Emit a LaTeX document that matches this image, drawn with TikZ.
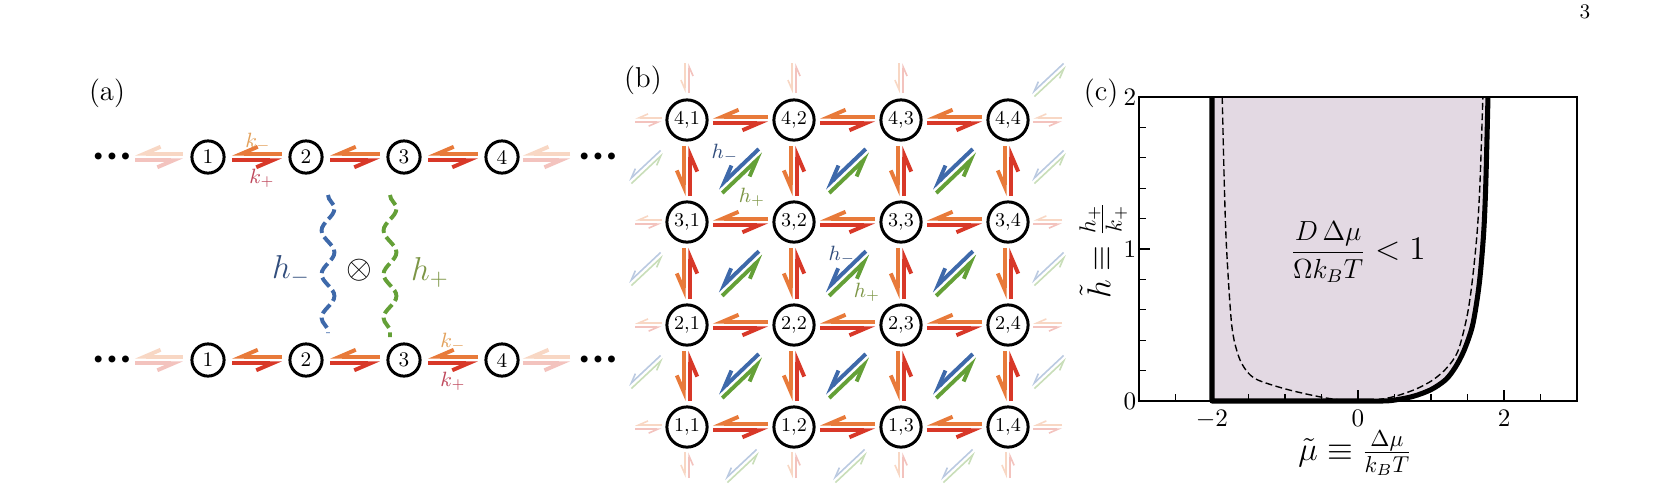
\documentclass[tikz,border=0pt]{standalone}
\usetikzlibrary{arrows.meta,calc,decorations.pathmorphing}

\definecolor{kred}{RGB}{216,56,40}
\definecolor{korange}{RGB}{232,122,58}
\definecolor{hblue}{RGB}{62,105,170}
\definecolor{hgreen}{RGB}{100,160,55}
\definecolor{kminustext}{RGB}{226,160,90}
\definecolor{kplustext}{RGB}{190,70,90}
\definecolor{hminustext}{RGB}{50,78,125}
\definecolor{hplustext}{RGB}{125,150,70}
\definecolor{regionfill}{RGB}{227,217,227}

\newcommand{\hoff}{1.45pt}
\newcommand{\rates}[6]{%
  \draw[#5, shorten <=#3, shorten >=#4] ($(#1)!\hoff!-90:(#2)$) -- ($(#2)!\hoff!90:(#1)$);
  \draw[#6, shorten <=#4, shorten >=#3] ($(#2)!\hoff!-90:(#1)$) -- ($(#1)!\hoff!90:(#2)$);}

\begin{document}
\begin{tikzpicture}[x=0.435pt, y=-0.435pt,
    site/.style={draw, circle, line width=1.3pt, minimum size=14pt, inner sep=0pt, font=\small},
    cell/.style={site, minimum size=17.5pt, font=\fontsize{8.5}{10}\selectfont},
    harp/.style={line width=1.7pt, -{Straight Barb[harpoon,swap,length=7pt,width=6pt]}},
    faint/.style={line width=0.7pt, -{Straight Barb[harpoon,swap,length=4pt,width=3.5pt]}},
    plusrate/.style={harp, draw=kred},
    minusrate/.style={harp, draw=korange},
    plusfield/.style={harp, draw=hgreen},
    minusfield/.style={harp, draw=hblue},
    paleplus/.style={harp, draw=kred!30},
    paleminus/.style={harp, draw=korange!30},
    faintplus/.style={faint, draw=kred!30},
    faintminus/.style={faint, draw=korange!30},
    faintgreen/.style={faint, draw=hgreen!35},
    faintblue/.style={faint, draw=hblue!35},
    wavy/.style={decorate, decoration={snake, amplitude=2.8pt, segment length=19pt}, line width=1.7pt, dash pattern=on 5pt off 2pt},
    dots/.style={font=\scriptsize},
    panel/.style={font=\fontsize{12.5}{15}\selectfont},
    ticklabel/.style={font=\fontsize{11}{13}\selectfont, inner sep=1pt}]
\useasboundingbox (0,0) rectangle (1656,500);

\node[panel] (la) at (107,93) {(a)};
\node[panel] (lb) at (643,80) {(b)};
\node[panel] (lc) at (1101,93) {(c)};
\node[font=\small] (pg) at (1585,12) {3};

% (a) two chains
\foreach \i/\x in {1/208,2/306,3/404,4/502} {
  \node[site] (a\i) at (\x,157) {\i};
  \node[site] (b\i) at (\x,360) {\i};
}
\coordinate (a0) at (135,157); \coordinate (a5) at (570,157);
\coordinate (b0) at (135,360); \coordinate (b5) at (570,360);
\foreach \row in {a,b} {
  \rates{\row0}{\row1}{0pt}{10.9pt}{paleplus}{paleminus}
  \rates{\row4}{\row5}{9.1pt}{0pt}{paleplus}{paleminus}
  \foreach \i [evaluate=\i as \j using int(\i+1)] in {1,2,3}
    {\rates{\row\i}{\row\j}{10.5pt}{10.5pt}{plusrate}{minusrate}}
}
\node[dots] (dal) at (112,157) {$\bullet\bullet\bullet$};
\node[dots] (dar) at (598,157) {$\bullet\bullet\bullet$};
\node[dots] (dbl) at (112,360) {$\bullet\bullet\bullet$};
\node[dots] (dbr) at (598,360) {$\bullet\bullet\bullet$};
\node[font=\small, text=kminustext] (km1) at (258,142) {$k_-$};
\node[font=\small, text=kplustext] (kp1) at (262,178) {$k_+$};
\node[font=\small, text=kminustext] (km2) at (453,342) {$k_-$};
\node[font=\small, text=kplustext] (kp2) at (453,381) {$k_+$};

\draw[wavy, draw=hblue] ($(a2)+(22,38)$) -- ($(b2)+(22,-27)$);
\draw[wavy, draw=hgreen] ($(a3)+(-14,38)$) -- ($(b3)+(-14,-23)$);
\node[font=\Large, text=hminustext] (hma) at (291,270) {$h_-$};
\node[font=\Large] (cross) at (359,270) {$\otimes$};
\node[font=\Large, text=hplustext] (hpa) at (430,272) {$h_+$};

% (b) lattice
\foreach \r/\y in {1/427,2/325,3/222,4/120} {
  \foreach \c/\x in {1/687,2/794,3/901,4/1008}
    {\node[cell] (n\r\c) at (\x,\y) {\r,\c};}
}
\foreach \r in {1,...,4} {
  \foreach \c [evaluate=\c as \d using int(\c+1)] in {1,2,3}
    {\rates{n\r\c}{n\r\d}{11.3pt}{11.3pt}{plusrate}{minusrate}}
}
\foreach \r [evaluate=\r as \s using int(\r+1)] in {1,2,3} {
  \foreach \c in {1,...,4}
    {\rates{n\r\c}{n\s\c}{11.3pt}{11.3pt}{plusrate}{minusrate}}
}
\foreach \r [evaluate=\r as \s using int(\r+1)] in {1,2,3} {
  \foreach \c [evaluate=\c as \d using int(\c+1)] in {1,2,3}
    {\rates{n\r\c}{n\s\d}{19.8pt}{19.8pt}{plusfield}{minusfield}}
}

\begin{scope}
\renewcommand{\hoff}{0.9pt}
\foreach \r/\y in {1/427,2/325,3/222,4/120} {
  \coordinate (gl\r) at (635,\y);
  \coordinate (gr\r) at (1062,\y);
  \rates{gl\r}{n\r1}{0pt}{11pt}{faintplus}{faintminus}
  \rates{n\r4}{gr\r}{11pt}{0pt}{faintplus}{faintminus}
}
\foreach \c/\x in {1/687,2/794,3/901} {
  \coordinate (gt\c) at (\x,63);
  \rates{n4\c}{gt\c}{11.7pt}{0pt}{faintplus}{faintminus}
}
\foreach \c/\x in {1/687,2/794,3/901,4/1008} {
  \coordinate (gb\c) at (\x,478);
  \rates{gb\c}{n1\c}{0pt}{11pt}{faintplus}{faintminus}
}
\foreach \k/\x/\y in {1/646/372,2/646/269,3/646/167,4/1049/372,5/1049/269,6/1049/167,7/1049/80,8/742/466,9/850/466,10/958/466} {
  \coordinate (dl\k) at (\x-16,\y+15);
  \coordinate (du\k) at (\x+16,\y-15);
  \rates{dl\k}{du\k}{0pt}{0pt}{faintgreen}{faintblue}
}
\end{scope}

\node[font=\small, text=hminustext] (hm1) at (725,153) {$h_-$};
\node[font=\small, text=hplustext] (hp1) at (752,197) {$h_+$};
\node[font=\small, text=hminustext] (hm2) at (842,255) {$h_-$};
\node[font=\small, text=hplustext] (hp2) at (867,292) {$h_+$};

% (c) phase diagram
\begin{scope}[shift={(1358,401)}, x=31.76pt, y=66.12pt]
  \fill[regionfill] (-2,0) -- (-2,2) -- plot[smooth] coordinates {(1.78,2) (1.75,1.43) (1.72,1.1) (1.66,0.77) (1.57,0.50) (1.45,0.33) (1.33,0.22) (1.2,0.14) (1.0,0.075) (0.75,0.03) (0.45,0.003) (0.2,0)} -- cycle;
  \draw[line width=0.6pt] (-3,0) rectangle (3,2);
  \draw[line width=0.6pt, dash pattern=on 3pt off 1.5pt] plot[smooth] coordinates {(-1.86,2) (-1.83,1.4) (-1.80,1.0) (-1.73,0.5) (-1.64,0.3) (-1.53,0.2) (-1.38,0.14) (-1.0,0.08) (-0.55,0.03) (-0.2,0.005) (0.2,0.005) (0.5,0.03) (0.8,0.08) (1.03,0.14) (1.22,0.22) (1.37,0.33) (1.49,0.55) (1.56,0.77) (1.63,1.1) (1.67,1.43) (1.71,2)};
  \draw[line width=2.2pt, line join=round] (-2,2) -- (-2,0) -- plot[smooth] coordinates {(0.2,0) (0.45,0.003) (0.75,0.03) (1.0,0.075) (1.2,0.14) (1.33,0.22) (1.45,0.33) (1.57,0.50) (1.66,0.77) (1.72,1.1) (1.75,1.43) (1.78,2)};
  \foreach \t in {-2.5,-1.5,-1,-0.5,0.5,1,1.5,2.5}
    \draw[line width=0.5pt] (\t,0) -- ++(0,3pt);
  \foreach \t in {-2,0,2}
    \draw[line width=0.5pt] (\t,0) -- ++(0,5pt);
  \foreach \t in {0.2,0.4,0.6,0.8,1.2,1.4,1.6,1.8}
    \draw[line width=0.5pt] (-3,\t) -- ++(3pt,0);
  \draw[line width=0.5pt] (-3,1) -- ++(5pt,0);
  \foreach \t/\s in {-2/$-2$,0/$0$,2/$2$}
    \node[ticklabel, below=3pt] (xt\t) at (\t,0) {\s};
  \foreach \t in {0,1,2}
    \node[ticklabel, left] (yt\t) at (-3,\t) {$\t$};
  \node[rotate=90, font=\Large] (ylab) at (-3.49,0.99) {$\tilde h\equiv\frac{h_+}{k_+}$};
  \node[font=\Large, inner sep=1pt] (xlab) at (-0.04,-0.345) {$\tilde\mu\equiv\frac{\Delta\mu}{k_BT}$};
  \node (cond) at (0,0.98) {\large$\displaystyle\frac{D\,\Delta\mu}{\Omega k_BT}${\fontsize{13.5}{16}\selectfont$\;<1$}};
\end{scope}
\end{tikzpicture}
\end{document}
